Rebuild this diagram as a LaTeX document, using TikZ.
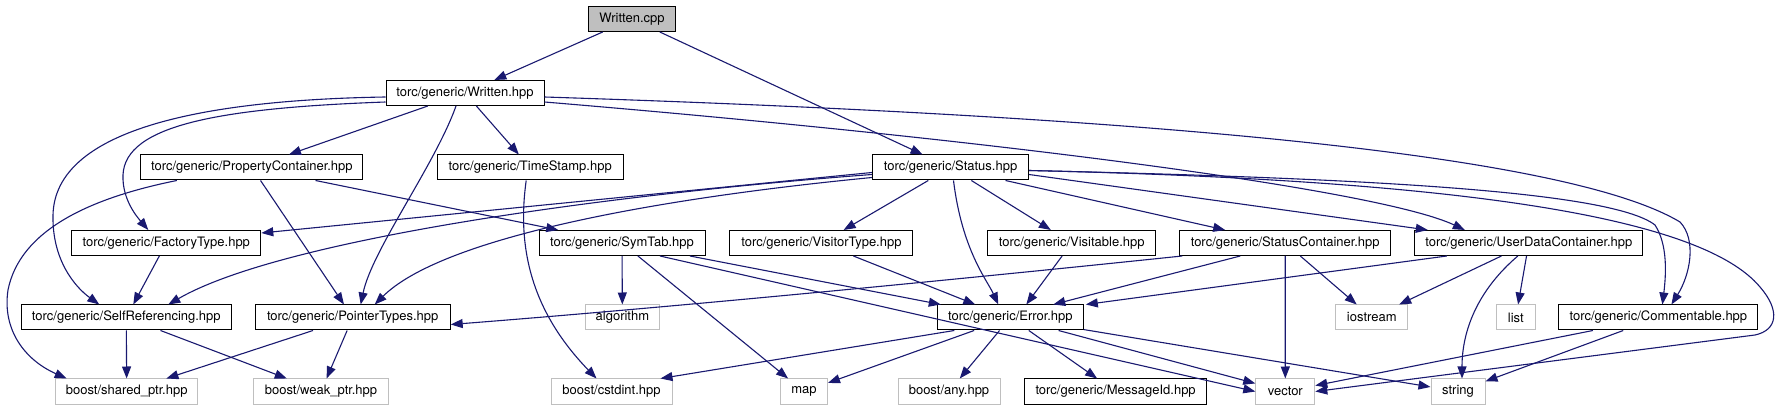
\documentclass[tikz,border=0pt]{standalone}
\usepackage{fontspec}
\setmainfont{TeX Gyre Heros}
\definecolor{edgeblue}{RGB}{25, 25, 112}
\definecolor{sysgray}{RGB}{191, 191, 191}
\usetikzlibrary{arrows.meta}

\begin{document}
\begin{tikzpicture}[
        x=1pt, y=-1pt,
        hdr/.style={rectangle, draw=black, line width=1pt, fill=white, inner sep=0pt,
                    minimum height=25pt, font=\fontsize{13}{15}\selectfont},
        syshdr/.style={hdr, draw=sysgray},
        root/.style={hdr, fill=sysgray},
        dep/.style={-{Triangle[length=12pt, width=9pt]}, draw=edgeblue, line width=1.1pt}
    ]
        \fill[white] (0,0) rectangle (1780,411);
        \useasboundingbox (0,0) rectangle (1780,411);

        % Source file
        \node[root, minimum width=87pt] (wcpp) at (632,19) {Written.cpp};

        % First level
        \node[hdr, minimum width=158pt] (whpp) at (465,93) {torc/generic/Written.hpp};

        % Second level
        \node[hdr, minimum width=222pt] (propc) at (251.8,167.5) {torc/generic/PropertyContainer.hpp};
        \node[hdr, minimum width=186pt] (tstamp) at (530.2,167.5) {torc/generic/TimeStamp.hpp};
        \node[hdr, minimum width=156pt] (status) at (950.5,167.5) {torc/generic/Status.hpp};

        % Third level
        \node[hdr, minimum width=189pt] (factory) at (166.3,243) {torc/generic/FactoryType.hpp};
        \node[hdr, minimum width=166pt] (symtab) at (622,243) {torc/generic/SymTab.hpp};
        \node[hdr, minimum width=183pt] (visitor) at (821.4,243) {torc/generic/VisitorType.hpp};
        \node[hdr, minimum width=168pt] (visitable) at (1071.7,243) {torc/generic/Visitable.hpp};
        \node[hdr, minimum width=211pt] (statcont) at (1285.2,243) {torc/generic/StatusContainer.hpp};
        \node[hdr, minimum width=228pt] (userdata) at (1528.8,243) {torc/generic/UserDataContainer.hpp};

        % Fourth level
        \node[hdr, minimum width=210pt] (selfref) at (126.3,317.5) {torc/generic/SelfReferencing.hpp};
        \node[hdr, minimum width=195pt] (ptrtypes) at (352.7,317.5) {torc/generic/PointerTypes.hpp};
        \node[syshdr, minimum width=74pt] (algorithm) at (622.4,317.5) {algorithm};
        \node[hdr, minimum width=146pt] (error) at (1010.3,317.5) {torc/generic/Error.hpp};
        \node[syshdr, minimum width=72pt] (iostream) at (1371.8,317.5) {iostream};
        \node[syshdr, minimum width=39pt] (list) at (1515.8,317.5) {list};
        \node[hdr, minimum width=199pt] (comment) at (1658.4,317.5) {torc/generic/Commentable.hpp};

        % Bottom level
        \node[syshdr, minimum width=142pt] (shared) at (126.7,391.5) {boost/shared\_ptr.hpp};
        \node[syshdr, minimum width=135pt] (weak) at (321,391.5) {boost/weak\_ptr.hpp};
        \node[syshdr, minimum width=121pt] (cstdint) at (611.5,391.5) {boost/cstdint.hpp};
        \node[syshdr, minimum width=47pt] (map) at (804,391.5) {map};
        \node[syshdr, minimum width=102pt] (any) at (949,391.5) {boost/any.hpp};
        \node[hdr, minimum width=182pt] (msgid) at (1115.6,391.5) {torc/generic/MessageId.hpp};
        \node[syshdr, minimum width=59pt] (vector) at (1285.3,391.5) {vector};
        \node[syshdr, minimum width=54pt] (string) at (1458,391.5) {string};

        % Written.cpp
        \draw[dep] (wcpp) -- (whpp);
        \draw[dep] (wcpp) -- (status);

        % Written.hpp
        \draw[dep] (whpp) -- (propc);
        \draw[dep] (whpp) -- (tstamp);
        \draw[dep] ([xshift=-9pt]whpp.south) .. controls (435,165) and (372,250) .. ([xshift=8pt]ptrtypes.north);
        \draw[dep] ([yshift=-4pt]whpp.west) .. controls (200,100) and (55,130) .. (53,215)
            .. controls (52,260) and (75,287) .. ([xshift=-27pt]selfref.north);
        \draw[dep] ([yshift=-9pt]whpp.west) .. controls (220,108) and (125,125) .. (123,175)
            .. controls (122,200) and (138,218) .. ([xshift=-18pt]factory.north);
        \draw[dep] ([yshift=-4pt]whpp.east) .. controls (1100,115) and (1560,150) .. (1680,222)
            .. controls (1697,240) and (1690,275) .. ([xshift=13pt]comment.north);
        \draw[dep] ([yshift=-9pt]whpp.east) .. controls (1000,140) and (1380,190) .. ([xshift=-64pt]userdata.north);

        % Status.hpp
        \draw[dep] ([yshift=-5pt]status.west) -- ([yshift=10pt]factory.east);
        \draw[dep] ([yshift=-7pt]status.west) .. controls (600,195) and (280,240) .. ([xshift=42pt]selfref.north);
        \draw[dep] ([yshift=-10pt]status.west) .. controls (640,200) and (440,240) .. ([xshift=22pt]ptrtypes.north);
        \draw[dep] (status) -- (visitor);
        \draw[dep] ([xshift=3pt]status.south) .. controls (962,250) and (987,280) .. ([xshift=-12pt]error.north);
        \draw[dep] (status) -- (visitable);
        \draw[dep] ([xshift=55pt]status.south) -- ([xshift=-60pt]statcont.north);
        \draw[dep] ([yshift=-7pt]status.east) -- ([xshift=-101pt]userdata.north);
        \draw[dep] ([yshift=-3pt]status.east) .. controls (1350,178) and (1610,190) .. (1655,225)
            .. controls (1668,245) and (1666,275) .. ([xshift=4pt]comment.north);
        \draw[dep] ([yshift=-3pt]status.east) .. controls (1450,180) and (1700,215) .. (1760,287)
            .. controls (1780,310) and (1778,330) .. (1755,335) -- (vector.east);

        % PropertyContainer.hpp
        \draw[dep] (propc) -- (ptrtypes);
        \draw[dep] (propc) -- (symtab);
        \draw[dep] ([xshift=-75pt]propc.south) .. controls (90,198) and (20,230) .. (8,290)
            .. controls (2,330) and (25,360) .. ([xshift=-60pt]shared.north);

        % TimeStamp.hpp
        \draw[dep] ([xshift=-4pt]tstamp.south) .. controls (515,260) and (540,320) .. ([xshift=-15pt]cstdint.north);

        % SymTab.hpp
        \draw[dep] (symtab) -- (algorithm);
        \draw[dep] (symtab) -- (map);
        \draw[dep] ([xshift=38pt]symtab.south) -- (vector.west);
        \draw[dep] ([xshift=68pt]symtab.south) -- ([xshift=4pt]error.north west);

        % VisitorType.hpp and Visitable.hpp
        \draw[dep] ([xshift=32pt]visitor.south) -- ([xshift=-35pt]error.north);
        \draw[dep] (visitable) -- ([xshift=16pt]error.north);

        % StatusContainer.hpp
        \draw[dep] ([xshift=-103pt]statcont.south) .. controls (1000,275) and (700,305) .. ([yshift=-7pt]ptrtypes.east);
        \draw[dep] ([xshift=-45pt]statcont.south) -- ([xshift=43pt]error.north);
        \draw[dep] (statcont) -- (vector);
        \draw[dep] (statcont) -- (iostream);

        % UserDataContainer.hpp
        \draw[dep] ([xshift=-82pt]userdata.south) -- ([xshift=2pt]error.north east);
        \draw[dep] (userdata) -- (iostream);
        \draw[dep] (userdata) -- (list);
        \draw[dep] ([xshift=-11pt]userdata.south) .. controls (1478,290) and (1462,330) .. ([xshift=4pt]string.north);

        % Error.hpp
        \draw[dep] ([xshift=-56pt]error.south) -- ([xshift=-12pt]cstdint.north east);
        \draw[dep] (error) -- (map);
        \draw[dep] (error) -- (any);
        \draw[dep] (error) -- (msgid);
        \draw[dep] (error) -- (vector);
        \draw[dep] (error) -- (string);

        % Commentable.hpp
        \draw[dep] (comment) -- (vector);
        \draw[dep] (comment) -- (string);

        % smart pointer headers
        \draw[dep] (factory) -- (selfref);
        \draw[dep] (selfref) -- (shared);
        \draw[dep] (selfref) -- (weak);
        \draw[dep] (ptrtypes) -- (shared);
        \draw[dep] (ptrtypes) -- (weak);
    \end{tikzpicture}
\end{document}
